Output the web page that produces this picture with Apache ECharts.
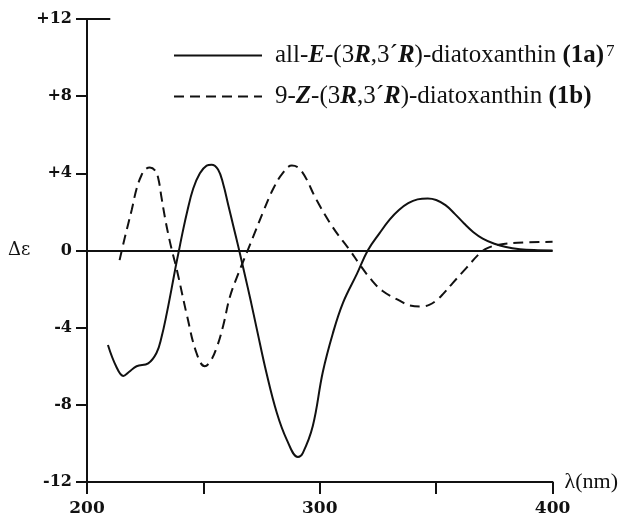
<!DOCTYPE html>
<html>
<head>
<meta charset="utf-8">
<script src="https://cdn.jsdelivr.net/npm/echarts@6/dist/echarts.min.js"></script>
<style>
  html, body { margin: 0; padding: 0; background: #fff; }
  #chart { width: 621px; height: 518px; }
</style>
</head>
<body>
<div id="chart"></div>
<script>
// wavelength (nm) and CD values
const lambdaE = [209, 212.5, 215.6, 218, 221.3, 226.3, 229.9, 232, 234.2, 236.3, 238, 239.5, 241, 243, 245.6, 248.5, 251.4, 253.5, 256.3, 258.5, 260.6, 262.8, 265, 267.5, 270.5, 273, 277, 281.5, 285.8, 290.6, 292.7, 297, 301.3, 305.6, 310, 316, 320.6, 325.7, 330, 334, 338, 342, 346.4, 350, 354, 358, 362, 366, 370, 375, 380, 386, 392, 400]
const deltaE = [-4.9, -6.0, -6.5, -6.3, -6.0, -5.85, -5.3, -4.5, -3.3, -2.0, -0.9, 0, 0.9, 2.0, 3.2, 4.0, 4.4, 4.45, 4.2, 3.45, 2.4, 1.3, 0.2, -1.1, -2.7, -4.1, -6.3, -8.4, -9.8, -10.7, -10.5, -9.1, -6.3, -4.3, -2.7, -1.2, 0, 0.9, 1.6, 2.1, 2.45, 2.65, 2.7, 2.62, 2.35, 1.9, 1.4, 0.95, 0.62, 0.35, 0.18, 0.07, 0.02, 0]

const lambdaZ = [214, 216.3, 219.2, 221.3, 223.4, 225, 227, 229.2, 230.6, 232, 233.5, 234.9, 236.5, 238.6, 243, 247, 250.6, 253, 255.8, 258.5, 261.4, 265, 268.5, 272, 276, 280, 284, 288, 292, 298.7, 305.6, 313, 317, 322, 327, 334.3, 338.6, 343.8, 347, 350, 353, 357, 363, 368.7, 372, 377, 385, 400]
const deltaZ = [-0.5, 0.7, 2.1, 3.2, 3.9, 4.2, 4.3, 4.15, 3.75, 2.75, 1.7, 0.85, 0, -1.0, -3.4, -5.3, -6.0, -5.75, -5.0, -3.9, -2.4, -1.2, -0.15, 0.9, 2.1, 3.2, 4.0, 4.4, 4.15, 2.6, 1.2, 0, -0.7, -1.5, -2.1, -2.6, -2.85, -2.9, -2.82, -2.6, -2.25, -1.7, -0.9, -0.15, 0.12, 0.3, 0.4, 0.45]

const xTicksLabelled = [200, 300, 400]
const nameE = 'all-E-(3R,3´R)-diatoxanthin (1a)7'
const nameZ = '9-Z-(3R,3´R)-diatoxanthin (1b)'

const serif = 'Liberation Serif'
const tickFont = 'DejaVu Serif'
const ink = '#111'

const chart = echarts.init(document.getElementById('chart'))

const option = {
  animation: false,
  backgroundColor: '#fff',
  grid: { left: 87, right: 68, top: 19, bottom: 36 },
  legend: {
    orient: 'vertical',
    left: 168,
    top: 38,
    itemWidth: 88,
    itemHeight: 14,
    itemGap: 16,
    selectedMode: false,
    itemStyle: { opacity: 0 },
    data: [nameE, nameZ],
    formatter: function (n) {
      if (n === nameE) {
        return '{gap|}{t|all-}{i|E}{t|-(3}{i|R}{t|,3´}{i|R}{t|)-diatoxanthin }{b|(1a)}{sup|7}'
      }
      return '{gap|}{t|9-}{i|Z}{t|-(3}{i|R}{t|,3´}{i|R}{t|)-diatoxanthin }{b|(1b)}'
    },
    textStyle: {
      fontFamily: serif,
      fontSize: 25,
      color: ink,
      rich: {
        gap: { width: 8 },
        t: { fontFamily: serif, fontSize: 25, color: ink },
        i: { fontFamily: serif, fontSize: 25, fontStyle: 'italic', fontWeight: 'bold', color: ink },
        b: { fontFamily: serif, fontSize: 25, fontWeight: 'bold', color: ink },
        sup: { fontFamily: serif, fontSize: 17, color: ink, verticalAlign: 'top', padding: [0, 0, 0, 2] }
      }
    }
  },
  xAxis: {
    type: 'value',
    min: 200,
    max: 400,
    interval: 50,
    name: 'λ(nm)',
    nameLocation: 'end',
    nameGap: 12,
    nameTextStyle: { fontFamily: serif, fontSize: 22, color: ink, padding: [0, 0, 10, 0] },
    axisLine: { onZero: false, lineStyle: { color: ink, width: 2 } },
    axisTick: { length: 12, lineStyle: { color: ink, width: 2 } },
    axisLabel: {
      fontFamily: tickFont,
      fontSize: 17,
      fontWeight: 'bold',
      color: ink,
      margin: 18,
      formatter: v => xTicksLabelled.includes(v) ? String(v) : ''
    },
    splitLine: { show: false }
  },
  yAxis: {
    type: 'value',
    min: -12,
    max: 12,
    interval: 4,
    name: 'Δε',
    nameLocation: 'middle',
    nameRotate: 0,
    nameGap: 55,
    nameTextStyle: { fontFamily: tickFont, fontSize: 18, color: ink },
    axisLine: { onZero: false, lineStyle: { color: ink, width: 2 } },
    axisTick: { length: 11, lineStyle: { color: ink, width: 2 } },
    axisLabel: {
      fontFamily: tickFont,
      fontSize: 16,
      fontWeight: 'bold',
      color: ink,
      margin: 15,
      formatter: v => v > 0 ? '+' + v : String(v)
    },
    splitLine: { show: false }
  },
  series: [
    {
      name: nameE,
      type: 'line',
      smooth: 0.4,
      symbol: 'none',
      data: lambdaE.map((x, i) => [x, deltaE[i]]),
      lineStyle: { color: ink, width: 2 },
      itemStyle: { color: ink },
      markLine: {
        silent: true,
        symbol: 'none',
        label: { show: false },
        lineStyle: { color: ink, width: 2, type: 'solid' },
        data: [
          [{ coord: [200, 0] }, { coord: [400, 0] }],
          [{ coord: [200, 12] }, { coord: [210, 12] }]
        ]
      }
    },
    {
      name: nameZ,
      type: 'line',
      smooth: 0.4,
      symbol: 'none',
      data: lambdaZ.map((x, i) => [x, deltaZ[i]]),
      lineStyle: { color: ink, width: 2, type: [10, 6] },
      itemStyle: { color: ink }
    }
  ]
}

chart.setOption(option)
</script>
</body>
</html>
